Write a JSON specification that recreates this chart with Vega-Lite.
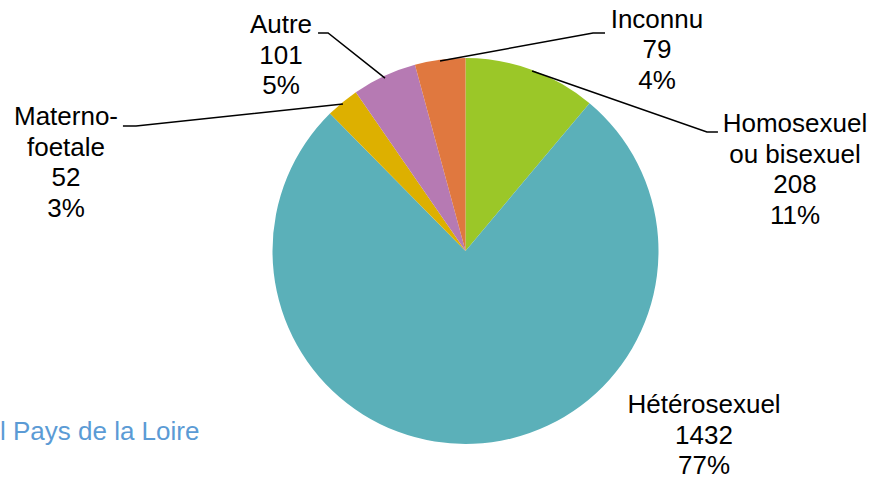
{
  "$schema": "https://vega.github.io/schema/vega-lite/v6.json",
  "width": 817,
  "height": 454,
  "autosize": {"type": "none"},
  "padding": {"left": 57, "top": 24, "right": 0, "bottom": 0},
  "background": "white",
  "config": {"view": {"stroke": null}, "font": "Liberation Sans"},
  "datasets": {
    "parts": [
      {"categorie": "Homosexuel ou bisexuel", "cas": 208, "rang": 1},
      {"categorie": "Hétérosexuel", "cas": 1432, "rang": 2},
      {"categorie": "Materno-foetale", "cas": 52, "rang": 3},
      {"categorie": "Autre", "cas": 101, "rang": 4},
      {"categorie": "Inconnu", "cas": 79, "rang": 5}
    ],
    "etiquettes": [
      {"texte": ["Autre", "101", "5%"], "x": -0.956, "y": 1.171},
      {"texte": ["Materno-", "foetale", "52", "3%"], "x": -2.070, "y": 0.694},
      {"texte": ["Inconnu", "79", "4%"], "x": 0.992, "y": 1.197},
      {"texte": ["Homosexuel", "ou bisexuel", "208", "11%"], "x": 1.707, "y": 0.658},
      {"texte": ["Hétérosexuel", "1432", "77%"], "x": 1.236, "y": -0.798}
    ],
    "traits": [
      {"id": "Autre", "x": -0.764, "y": 1.130},
      {"id": "Autre", "x": -0.712, "y": 1.130},
      {"id": "Autre", "x": -0.417, "y": 0.896},
      {"id": "Materno", "x": -1.775, "y": 0.648},
      {"id": "Materno", "x": -1.707, "y": 0.648},
      {"id": "Materno", "x": -0.635, "y": 0.762},
      {"id": "Inconnu", "x": -0.132, "y": 0.984},
      {"id": "Inconnu", "x": 0.661, "y": 1.130},
      {"id": "Inconnu", "x": 0.723, "y": 1.130},
      {"id": "Homo", "x": 0.345, "y": 0.933},
      {"id": "Homo", "x": 1.251, "y": 0.617},
      {"id": "Homo", "x": 1.308, "y": 0.617}
    ],
    "source": [
      {"texte": "l Pays de la Loire", "x": -2.412, "y": -0.938}
    ]
  },
  "layer": [
    {
      "data": {"name": "parts"},
      "mark": {"type": "arc", "outerRadius": 193},
      "encoding": {
        "theta": {"field": "cas", "type": "quantitative", "stack": true},
        "order": {"field": "rang", "type": "quantitative"},
        "color": {
          "field": "categorie",
          "type": "nominal",
          "scale": {
            "domain": ["Homosexuel ou bisexuel", "Hétérosexuel", "Materno-foetale", "Autre", "Inconnu"],
            "range": ["#9bc728", "#5bb0b9", "#ddb000", "#b67ab3", "#e0783f"]
          },
          "legend": null
        }
      }
    },
    {
      "data": {"name": "traits"},
      "mark": {"type": "line", "color": "black", "strokeWidth": 1.5},
      "encoding": {
        "x": {"field": "x", "type": "quantitative", "scale": {"domain": [-2.1166, 2.1166], "nice": false, "zero": false}, "axis": null},
        "y": {"field": "y", "type": "quantitative", "scale": {"domain": [-1.1762, 1.1762], "nice": false, "zero": false}, "axis": null},
        "detail": {"field": "id", "type": "nominal"}
      }
    },
    {
      "data": {"name": "etiquettes"},
      "mark": {"type": "text", "fontSize": 26, "lineHeight": 30.5, "align": "center", "baseline": "middle", "color": "black"},
      "encoding": {
        "x": {"field": "x", "type": "quantitative"},
        "y": {"field": "y", "type": "quantitative"},
        "text": {"field": "texte"}
      }
    },
    {
      "data": {"name": "source"},
      "mark": {"type": "text", "fontSize": 26, "align": "left", "baseline": "middle", "color": "#5b9bd5", "clip": false},
      "encoding": {
        "x": {"field": "x", "type": "quantitative"},
        "y": {"field": "y", "type": "quantitative"},
        "text": {"field": "texte"}
      }
    }
  ]
}
